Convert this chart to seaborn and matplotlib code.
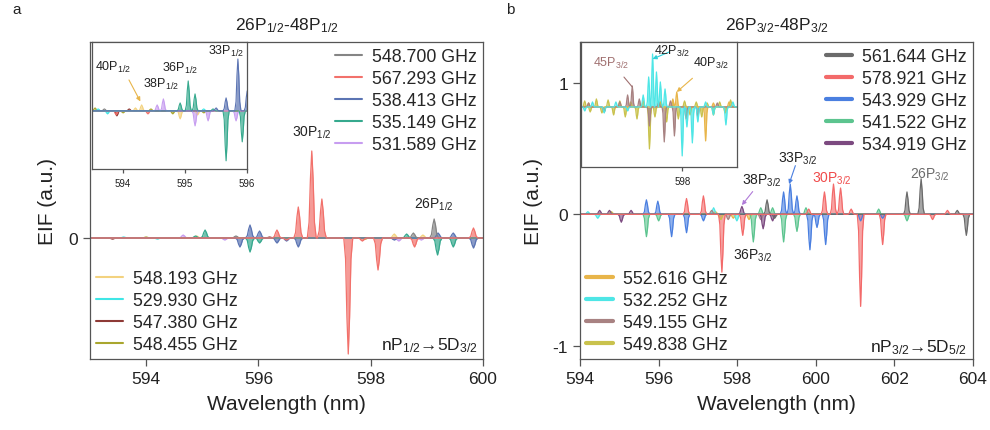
import numpy as np
import matplotlib
matplotlib.use("Agg")
import matplotlib.pyplot as plt
import seaborn as sns
from matplotlib.lines import Line2D

# ---------------- data (peak centres in nm, heights in a.u.) ----------------
# Panel a, main axes
a_548700_pos = [595.60, 598.76, 599.13]
a_548700_amp = [0.02, 0.05, 0.19]
a_567293_pos = [596.33, 596.50, 596.71, 596.95, 597.13, 597.60, 597.85, 598.13, 598.78, 599.83]
a_567293_amp = [0.08, -0.02, 0.31, 0.87, 0.39, -1.16, -0.03, -0.32, -0.09, 0.10]
a_538413_pos = [595.67, 595.85, 596.02, 596.33, 596.50, 596.71, 598.42, 599.20, 599.47, 599.83]
a_538413_amp = [-0.09, 0.13, 0.07, -0.05, -0.03, -0.09, -0.02, 0.05, 0.05, -0.10]
a_535149_pos = [594.88, 595.05, 595.85, 596.02, 598.64, 599.19, 599.47]
a_535149_amp = [0.02, 0.08, -0.14, -0.05, 0.04, -0.17, -0.09]
a_531589_pos = [594.66, 595.40, 598.50, 598.90]
a_531589_amp = [0.03, -0.02, -0.03, -0.02]
a_548193_pos = [594.90, 598.42, 598.93]
a_548193_amp = [0.02, 0.04, 0.03]
a_529930_pos = [593.60, 594.20]
a_529930_amp = [0.01, -0.01]
a_547380_pos = [593.40, 596.20]
a_547380_amp = [-0.01, 0.01]
a_548455_pos = [594.00, 597.90]
a_548455_amp = [0.01, -0.01]

# Panel a, inset
ai_548700_pos = [593.70]
ai_548700_amp = [0.02]
ai_567293_pos = [593.89, 594.40]
ai_567293_amp = [-0.04, -0.03]
ai_538413_pos = [595.50, 595.66, 595.85, 596.00]
ai_538413_amp = [0.03, 0.13, 0.52, 0.20]
ai_535149_pos = [594.92, 595.05, 595.16, 595.45, 595.66, 595.92]
ai_535149_amp = [0.08, 0.30, 0.17, 0.02, -0.50, -0.31]
ai_531589_pos = [594.55, 594.65, 595.16, 595.37, 595.82]
ai_531589_amp = [0.06, 0.12, -0.15, -0.10, -0.10]
ai_548193_pos = [594.20, 594.30, 594.92, 595.20]
ai_548193_amp = [0.03, 0.06, -0.08, -0.04]
ai_529930_pos = [593.60, 593.75, 595.30]
ai_529930_amp = [0.02, -0.03, 0.02]
ai_547380_pos = [593.90, 594.10]
ai_547380_amp = [-0.05, 0.02]
ai_548455_pos = [593.55, 594.00, 594.45, 594.80, 595.30]
ai_548455_amp = [0.03, -0.02, 0.02, -0.03, -0.02]

# Panel b, main axes
b_561644_pos = [598.76, 598.95, 602.32, 602.68, 603.60, 603.83]
b_561644_amp = [0.11, -0.03, 0.17, 0.27, 0.03, -0.16]
b_578921_pos = [596.71, 597.14, 597.61, 598.14, 599.82, 600.22, 600.45, 600.63, 600.90,
                601.14, 601.70, 602.97, 603.35]
b_578921_amp = [0.12, 0.14, -0.44, -0.16, 0.04, 0.17, 0.23, 0.20, 0.04, -0.70, -0.23, -0.04, 0.03]
b_543929_pos = [595.69, 595.98, 596.33, 596.71, 597.14, 599.18, 599.35, 599.52, 599.85,
                600.03, 600.25, 601.14, 601.70]
b_543929_amp = [0.11, 0.10, -0.17, -0.14, -0.05, 0.17, 0.23, 0.14, -0.27, -0.10, -0.23, -0.05, -0.03]
b_541522_pos = [595.69, 596.00, 598.41, 598.60, 598.90, 599.18, 599.52, 599.75, 601.60, 602.32]
b_541522_amp = [-0.17, -0.05, -0.21, 0.05, 0.05, -0.21, -0.13, 0.05, 0.04, -0.05]
b_534919_pos = [594.50, 594.75, 595.05, 595.30, 598.12, 598.66, 598.90]
b_534919_amp = [0.03, 0.03, -0.06, 0.03, 0.06, -0.11, -0.05]
b_552616_pos = [597.45, 597.90, 598.30]
b_552616_amp = [0.02, -0.03, -0.04]
b_532252_pos = [594.20, 594.45, 597.40, 597.99]
b_532252_amp = [0.02, -0.03, 0.05, -0.05]
b_549155_pos = [597.35, 597.77, 598.60]
b_549155_amp = [0.03, -0.04, -0.04]
b_549838_pos = [594.80, 597.58]
b_549838_amp = [0.02, -0.04]

# Panel b, inset
bi_549155_pos = [596.80, 597.00, 597.20, 597.30, 597.36, 597.45, 597.58, 597.70, 597.77,
                 597.85, 597.90, 598.05, 598.20, 598.45]
bi_549155_amp = [0.04, -0.05, 0.05, 0.12, 0.21, 0.08, -0.19, 0.05, -0.35, 0.06, -0.29,
                 -0.12, -0.10, 0.04]
bi_532252_pos = [596.75, 596.85, 597.00, 597.15, 597.30, 597.50, 597.57, 597.62, 597.67,
                 597.72, 597.78, 598.00, 598.06, 598.13, 598.20, 598.30, 598.40, 598.56, 598.65]
bi_532252_amp = [-0.04, 0.05, -0.06, 0.05, -0.04, 0.12, 0.30, 0.53, 0.35, 0.25, 0.18,
                 -0.49, -0.20, -0.36, -0.15, 0.05, -0.08, -0.18, 0.05]
bi_549838_pos = [596.75, 596.82, 596.90, 596.97, 597.05, 597.12, 597.20, 597.27, 597.34,
                 597.42, 597.50, 597.58, 597.65, 597.72, 597.80, 597.88, 597.95, 598.03,
                 598.10, 598.18, 598.25, 598.32, 598.40, 598.48, 598.55, 598.62]
bi_549838_amp = [0.06, -0.05, 0.08, -0.06, 0.07, -0.08, 0.06, -0.10, 0.05, -0.12, 0.06,
                 -0.42, -0.10, 0.05, -0.15, 0.05, -0.12, 0.06, -0.08, 0.05, -0.10, 0.04,
                 -0.08, 0.05, -0.06, 0.07]
bi_552616_pos = [596.80, 597.00, 597.88, 597.93, 598.30, 598.40, 598.60]
bi_552616_amp = [0.04, -0.05, 0.08, 0.15, -0.34, 0.04, 0.05]

# legend labels / colours
a_upper_labels = ["548.700 GHz", "567.293 GHz", "538.413 GHz", "535.149 GHz", "531.589 GHz"]
a_upper_colors = ["#858585", "#f2716b", "#5b74b3", "#36a98e", "#c79df0"]
a_lower_labels = ["548.193 GHz", "529.930 GHz", "547.380 GHz", "548.455 GHz"]
a_lower_colors = ["#f3d27f", "#3fe6e6", "#8e3a36", "#a9a62e"]
b_upper_labels = ["561.644 GHz", "578.921 GHz", "543.929 GHz", "541.522 GHz", "534.919 GHz"]
b_upper_colors = ["#6b6b6b", "#f36a6a", "#4a7fe0", "#5cc48f", "#7c4a80"]
b_lower_labels = ["552.616 GHz", "532.252 GHz", "549.155 GHz", "549.838 GHz"]
b_lower_colors = ["#e8b54a", "#4ee6e6", "#a88282", "#c9c24d"]

# peak shape template (relative)
PROFILE_X = [-1.0, -0.6, -0.3, 0.0, 0.3, 0.6, 1.0]
PROFILE_Y = [0.0, 0.18, 0.68, 1.0, 0.68, 0.18, 0.0]

# ---------------- style ----------------
sns.set_style("ticks")
plt.rcParams["font.family"] = ["Liberation Sans", "DejaVu Sans"]
plt.rcParams["mathtext.fontset"] = "custom"
plt.rcParams["mathtext.rm"] = "Liberation Sans"
plt.rcParams["mathtext.it"] = "Liberation Sans:italic"
plt.rcParams["mathtext.bf"] = "Liberation Sans:bold"
plt.rcParams["axes.unicode_minus"] = False
TXT = "#222222"
SPINE = "#555555"


def build(lo, hi, pos, amp, w):
    xs, ys = [lo], [0.0]
    for c, h in sorted(zip(pos, amp)):
        for px, py in zip(PROFILE_X, PROFILE_Y):
            xs.append(c + w * px)
            ys.append(h * py)
    xs.append(hi)
    ys.append(0.0)
    return np.array(xs), np.array(ys)


def draw(ax, lo, hi, pos, amp, w, color, lw=0.9, alpha=0.7):
    xs, ys = build(lo, hi, pos, amp, w)
    sns.lineplot(x=xs, y=ys, ax=ax, color=color, lw=lw, sort=False, estimator=None)
    ax.fill_between(xs, ys, 0, color=color, alpha=alpha, lw=0)


def style_axes(ax):
    for s in ax.spines.values():
        s.set_color(SPINE)
        s.set_linewidth(0.9)
        s.set_visible(True)
    ax.tick_params(direction="out", length=5, width=0.9, color=SPINE,
                   labelsize=12.5, labelcolor=TXT)


LEG_KW = dict(frameon=False, fontsize=12.8, handlelength=1.5, handletextpad=0.55,
              labelspacing=0.28, borderaxespad=0.15, borderpad=0.2)

fig = plt.figure(figsize=(9.9, 4.31), dpi=100)
axA = fig.add_axes([90 / 990, 1 - 360 / 431, 393 / 990, 317 / 431])
axB = fig.add_axes([580 / 990, 1 - 360 / 431, 393 / 990, 317 / 431])

# ---------------- panel a ----------------
A_LO, A_HI = 593.0, 600.0
a_pos = [a_548193_pos, a_529930_pos, a_547380_pos, a_548455_pos,
         a_531589_pos, a_535149_pos, a_538413_pos, a_548700_pos, a_567293_pos]
a_amp = [a_548193_amp, a_529930_amp, a_547380_amp, a_548455_amp,
         a_531589_amp, a_535149_amp, a_538413_amp, a_548700_amp, a_567293_amp]
a_cols = a_lower_colors + [a_upper_colors[4], a_upper_colors[3], a_upper_colors[2],
                           a_upper_colors[0], a_upper_colors[1]]
for p, h, c in zip(a_pos, a_amp, a_cols):
    draw(axA, A_LO, A_HI, p, h, 0.08, c)
axA.set_xlim(A_LO, A_HI)
axA.set_ylim(-1.21, 1.96)
axA.set_xticks([594, 596, 598, 600])
axA.set_yticks([0])
style_axes(axA)
axA.set_xlabel("Wavelength (nm)", fontsize=15, color=TXT, labelpad=6)
axA.set_ylabel("EIF (a.u.)", fontsize=15, color=TXT, labelpad=8)
axA.set_title(r"26P$_{1/2}$-48P$_{1/2}$", fontsize=12.5, color=TXT, pad=9)
axA.annotate(r"30P$_{1/2}$", (596.95, 0.98), ha="center", va="bottom", fontsize=10, color=TXT)
axA.annotate(r"26P$_{1/2}$", (599.13, 0.26), ha="center", va="bottom", fontsize=10, color=TXT)
axA.text(0.987, 0.045, r"nP$_{1/2}$→5D$_{3/2}$", transform=axA.transAxes, ha="right",
         va="center", fontsize=12.5, color=TXT)

legA1 = axA.legend([Line2D([], [], color=c, lw=1.5) for c in a_upper_colors], a_upper_labels,
                   loc="upper right", **LEG_KW)
axA.add_artist(legA1)
axA.legend([Line2D([], [], color=c, lw=1.5) for c in a_lower_colors], a_lower_labels,
           loc="lower left", **LEG_KW)

# inset a
insA = axA.inset_axes([0.005, 0.60, 0.395, 0.40])
AI_LO, AI_HI = 593.5, 596.0
ai_pos = [ai_548455_pos, ai_547380_pos, ai_529930_pos, ai_548193_pos, ai_548700_pos,
          ai_567293_pos, ai_531589_pos, ai_535149_pos, ai_538413_pos]
ai_amp = [ai_548455_amp, ai_547380_amp, ai_529930_amp, ai_548193_amp, ai_548700_amp,
          ai_567293_amp, ai_531589_amp, ai_535149_amp, ai_538413_amp]
ai_cols = [a_lower_colors[3], a_lower_colors[2], a_lower_colors[1], a_lower_colors[0],
           a_upper_colors[0], a_upper_colors[1], a_upper_colors[4], a_upper_colors[3],
           a_upper_colors[2]]
for p, h, c in zip(ai_pos, ai_amp, ai_cols):
    draw(insA, AI_LO, AI_HI, p, h, 0.05, c, lw=0.8, alpha=0.7)
insA.set_xlim(AI_LO, AI_HI)
insA.set_ylim(-0.58, 0.69)
insA.set_xticks([594, 595, 596])
insA.set_yticks([])
style_axes(insA)
insA.tick_params(labelsize=7, length=3)
insA.set_facecolor("white")
insA.text(0.02, 0.81, r"40P$_{1/2}$", transform=insA.transAxes, fontsize=9, color=TXT, va="center")
insA.annotate("", xy=(594.30, 0.07), xytext=(0.23, 0.72), textcoords="axes fraction",
              arrowprops=dict(arrowstyle="-|>", color="#e8b54a", lw=0.8, mutation_scale=6))
insA.text(0.33, 0.67, r"38P$_{1/2}$", transform=insA.transAxes, fontsize=9, color=TXT, va="center")
insA.text(0.45, 0.80, r"36P$_{1/2}$", transform=insA.transAxes, fontsize=9, color=TXT, va="center")
insA.text(0.75, 0.93, r"33P$_{1/2}$", transform=insA.transAxes, fontsize=9, color=TXT, va="center")

# ---------------- panel b ----------------
B_LO, B_HI = 594.0, 604.0
b_pos = [b_552616_pos, b_532252_pos, b_549155_pos, b_549838_pos,
         b_534919_pos, b_541522_pos, b_543929_pos, b_561644_pos, b_578921_pos]
b_amp = [b_552616_amp, b_532252_amp, b_549155_amp, b_549838_amp,
         b_534919_amp, b_541522_amp, b_543929_amp, b_561644_amp, b_578921_amp]
b_cols = b_lower_colors + [b_upper_colors[4], b_upper_colors[3], b_upper_colors[2],
                           b_upper_colors[0], b_upper_colors[1]]
for p, h, c in zip(b_pos, b_amp, b_cols):
    draw(axB, B_LO, B_HI, p, h, 0.085, c, alpha=0.6)
axB.set_xlim(B_LO, B_HI)
axB.set_ylim(-1.10, 1.31)
axB.set_xticks([594, 596, 598, 600, 602, 604])
axB.set_yticks([-1, 0, 1])
style_axes(axB)
axB.set_xlabel("Wavelength (nm)", fontsize=15, color=TXT, labelpad=6)
axB.set_ylabel("EIF (a.u.)", fontsize=15, color=TXT, labelpad=7)
axB.set_title(r"26P$_{3/2}$-48P$_{3/2}$", fontsize=12.5, color=TXT, pad=9)
axB.annotate(r"38P$_{3/2}$", xy=(598.12, 0.07), xytext=(598.12, 0.26), ha="left", va="center",
             fontsize=10, color=TXT,
             arrowprops=dict(arrowstyle="-|>", color="#b07ad8", lw=0.8, mutation_scale=6,
                             shrinkA=0, shrinkB=0))
axB.text(599.05, 0.43, r"33P$_{3/2}$", ha="left", va="center", fontsize=10, color=TXT)
axB.annotate("", xy=(599.32, 0.23), xytext=(599.48, 0.37),
             arrowprops=dict(arrowstyle="-|>", color="#4a7fe0", lw=0.8, mutation_scale=6,
                             shrinkA=0, shrinkB=0))
axB.text(600.4, 0.28, r"30P$_{3/2}$", ha="center", va="center", fontsize=10, color="#f04a4a")
axB.text(602.9, 0.31, r"26P$_{3/2}$", ha="center", va="center", fontsize=10, color="#6b6b6b")
axB.text(598.4, -0.31, r"36P$_{3/2}$", ha="center", va="center", fontsize=10, color=TXT)
axB.text(0.985, 0.04, r"nP$_{3/2}$→5D$_{5/2}$", transform=axB.transAxes, ha="right",
         va="center", fontsize=12.5, color=TXT)

legB1 = axB.legend([Line2D([], [], color=c, lw=3) for c in b_upper_colors], b_upper_labels,
                   loc="upper right", **LEG_KW)
axB.add_artist(legB1)
axB.legend([Line2D([], [], color=c, lw=3) for c in b_lower_colors], b_lower_labels,
           loc="lower left", **LEG_KW)

# inset b
insB = axB.inset_axes([0.002, 0.606, 0.397, 0.394])
BI_LO, BI_HI = 596.7, 598.7
bi_pos = [bi_549838_pos, bi_552616_pos, bi_549155_pos, bi_532252_pos]
bi_amp = [bi_549838_amp, bi_552616_amp, bi_549155_amp, bi_532252_amp]
bi_cols = [b_lower_colors[3], b_lower_colors[0], b_lower_colors[2], b_lower_colors[1]]
for p, h, c in zip(bi_pos, bi_amp, bi_cols):
    draw(insB, BI_LO, BI_HI, p, h, 0.028, c, lw=0.9, alpha=0.75)
insB.set_xlim(BI_LO, BI_HI)
insB.set_ylim(-0.60, 0.65)
insB.set_xticks([598])
insB.set_yticks([])
style_axes(insB)
insB.tick_params(labelsize=7, length=3)
insB.set_facecolor("white")
insB.annotate(r"45P$_{3/2}$", xy=(597.36, 0.2), xytext=(0.08, 0.84), textcoords="axes fraction",
              ha="left", va="center", fontsize=9, color="#a07070",
              arrowprops=dict(arrowstyle="-", color="#a07070", lw=0.8, shrinkA=4, shrinkB=0))
insB.annotate(r"42P$_{3/2}$", xy=(597.62, 0.48), xytext=(0.47, 0.93), textcoords="axes fraction",
              ha="left", va="center", fontsize=9, color=TXT,
              arrowprops=dict(arrowstyle="-|>", color="#2fd0d8", lw=0.8, mutation_scale=6,
                              shrinkA=2, shrinkB=0))
insB.annotate(r"40P$_{3/2}$", xy=(597.93, 0.15), xytext=(0.72, 0.84), textcoords="axes fraction",
              ha="left", va="center", fontsize=9, color=TXT,
              arrowprops=dict(arrowstyle="-|>", color="#e8b54a", lw=0.8, mutation_scale=6,
                              shrinkA=6, shrinkB=0))

fig.text(12 / 990, 1 - 10 / 431, "a", fontsize=11, color=TXT, va="center")
fig.text(506 / 990, 1 - 10 / 431, "b", fontsize=11, color=TXT, va="center")

fig.savefig("out.png", dpi=100)
